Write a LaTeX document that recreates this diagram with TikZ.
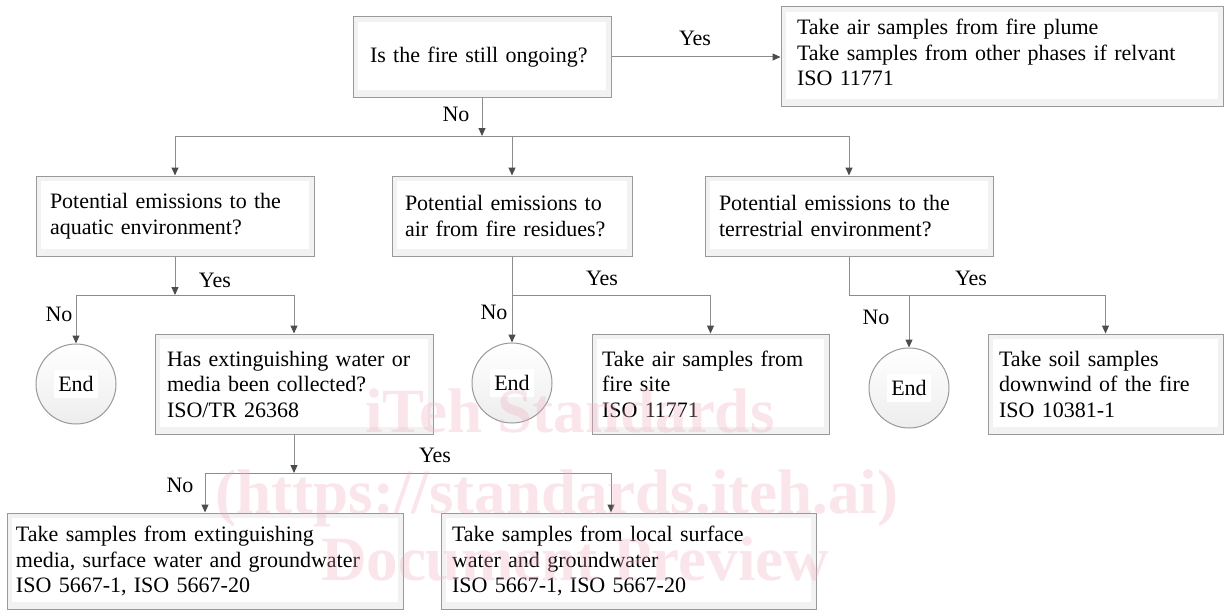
\documentclass[tikz,border=0pt]{standalone}
\usepackage{fontspec}
\setmainfont{Liberation Serif}
\usetikzlibrary{arrows.meta}
\begin{document}
\begin{tikzpicture}[x=1pt,y=-1pt,
  line/.style={draw=black!45, line width=1pt},
  arr/.style={line, -{Triangle[length=8pt,width=7pt,color=black!70]}},
  box/.style={rectangle, draw=black!40, line width=1pt, fill=black!5,
    font=\fontsize{22}{25.5}\selectfont, align=left, inner ysep=0pt,
    path picture={\fill[white] ([shift={(5pt,-5pt)}]path picture bounding box.north west)
      rectangle ([shift={(-5pt,7pt)}]path picture bounding box.south east);}},
  endc/.style={circle, draw=black!40, line width=1pt, top color=white, bottom color=black!7,
    minimum size=80pt, inner sep=0pt, font=\fontsize{22}{25.5}\selectfont,
    path picture={\fill[white] ([shift={(-22pt,-14pt)}]path picture bounding box.center)
      rectangle ([shift={(22pt,14pt)}]path picture bounding box.center);}},
  lbl/.style={font=\fontsize{22}{25.5}\selectfont, inner sep=0pt},
  wm/.style={font=\fontsize{63}{70}\selectfont\bfseries,
    text={rgb,255:red,240;green,170;blue,190}, text opacity=0.3, inner sep=0pt, anchor=base}
]
\useasboundingbox[fill=white] (0,0) rectangle (1225,610);

% boxes
\node[box, minimum width=258pt, minimum height=80pt, inner xsep=17pt, text width=224pt] (A) at (482,57) {Is the fire still ongoing?};
\node[box, minimum width=442pt, minimum height=99pt, inner xsep=16pt, text width=410pt] (B) at (1002,56.5)
  {Take air samples from fire plume\\Take samples from other phases if relvant\\ISO 11771\\[-17.5pt]\mbox{}};
\node[box, minimum width=278pt, minimum height=80pt, inner xsep=14pt, text width=250pt] (C) at (175,216)
  {Potential emissions to the\\aquatic environment?};
\node[box, minimum width=240pt, minimum height=80pt, inner xsep=13pt, text width=214pt] (D) at (512,216)
  {Potential emissions to\\air from fire residues?};
\node[box, minimum width=288pt, minimum height=80pt, inner xsep=14pt, text width=260pt] (E) at (849,216)
  {Potential emissions to the\\terrestrial environment?};
\node[box, minimum width=278pt, minimum height=100pt, inner xsep=12pt, text width=254pt] (F) at (294,384)
  {Has extinguishing water or\\media been collected?\\ISO/TR 26368};
\node[box, minimum width=237pt, minimum height=100pt, inner xsep=10pt, text width=217pt] (G) at (710.5,384)
  {Take air samples from\\fire site\\ISO 11771};
\node[box, minimum width=235pt, minimum height=100pt, inner xsep=11pt, text width=213pt] (H) at (1105.5,384)
  {Take soil samples\\downwind of the fire\\ISO 10381-1};
\node[box, minimum width=396pt, minimum height=96pt, inner xsep=9pt, text width=378pt] (I) at (205,561)
  {Take samples from extinguishing\\media, surface water and groundwater\\ISO 5667-1, ISO 5667-20};
\node[box, minimum width=375pt, minimum height=96pt, inner xsep=11pt, text width=353pt] (J) at (628.5,561)
  {Take samples from local surface\\water and groundwater\\ISO 5667-1, ISO 5667-20};

% end circles
\node[endc] (N1) at (76,384) {End};
\node[endc] (N2) at (512,383) {End};
\node[endc] (N3) at (909,388) {End};

% connectors
\draw[arr] (A.east) -- (B.west |- A.east);
\coordinate (b0) at (482,136);
\draw[arr] (A.south) -- (b0);
\draw[line] (C.north |- b0) -- (E.north |- b0);
\draw[arr] (C.north |- b0) -- (C.north);
\draw[arr] (D.north |- b0) -- (D.north);
\draw[arr] (E.north |- b0) -- (E.north);

\coordinate (b1) at (175,295);
\draw[arr] (C.south) -- (b1);
\draw[line] (N1.north |- b1) -- (F.north |- b1);
\draw[arr] (N1.north |- b1) -- (N1.north);
\draw[arr] (F.north |- b1) -- (F.north);

\coordinate (b2) at (512,295);
\draw[arr] (D.south) -- (N2.north);
\draw[arr] (b2) -| (G.north);

\draw[line] (E.south) |- (H.north |- b2);
\draw[arr] (N3.north |- b2) -- (N3.north);
\draw[arr] (H.north |- b2) -- (H.north);

\coordinate (b3) at (294,473);
\coordinate (jn) at ([xshift=-17.5pt]J.north);
\draw[arr] (F.south) -- (b3);
\draw[line] (I.north |- b3) -- (jn |- b3);
\draw[arr] (I.north |- b3) -- (I.north);
\draw[arr] (jn |- b3) -- (jn);

% labels
\node[lbl] (l1) at (695,38) {Yes};
\node[lbl] (l2) at (456,114) {No};
\node[lbl] (l3) at (215,280) {Yes};
\node[lbl] (l4) at (59,314) {No};
\node[lbl] (l5) at (602,278) {Yes};
\node[lbl] (l6) at (494,312) {No};
\node[lbl] (l7) at (876,317) {No};
\node[lbl] (l8) at (971,278) {Yes};
\node[lbl] (l9) at (435,455) {Yes};
\node[lbl] (l10) at (180,485) {No};

% watermark
\node[wm] (w1) at (570,432) {iTeh Standards};
\node[wm] (w2) at (557,513) {(https://standards.iteh.ai)};
\node[wm] (w3) at (575,580) {Document Preview};
\end{tikzpicture}
\end{document}
